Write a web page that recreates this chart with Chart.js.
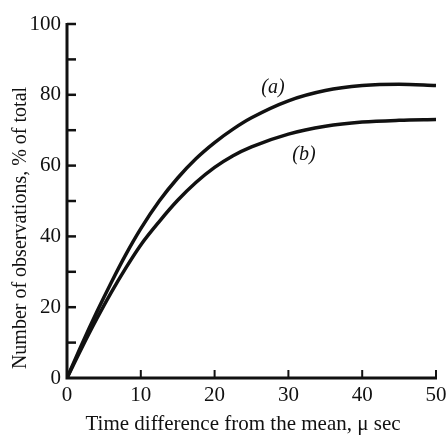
<!DOCTYPE html>
<html>
<head>
<meta charset="utf-8">
<script src="https://cdn.jsdelivr.net/npm/chart.js@4.4.1/dist/chart.umd.min.js"></script>
<style>
html,body{margin:0;padding:0;background:#fff;}
#wrap{width:447px;height:435px;}
</style>
</head>
<body>
<div id="wrap"><canvas id="c" width="447" height="435"></canvas></div>
<script>
// Time difference from the mean (µs)
const timeDiff = [0, 2, 4, 6, 8, 10, 12.5, 15, 17.5, 20, 22.5, 25, 30, 35, 40, 45, 50];
// Curve (a), % of total
const curveA = [0, 9.5, 18.5, 27, 35, 42.2, 50, 56.5, 62, 66.5, 70.3, 73.5, 78.3, 81.2, 82.6, 83, 82.6];
// Curve (b), % of total
const curveB = [0, 8.5, 16.6, 24.2, 31.2, 37.6, 44.2, 50.2, 55.3, 59.5, 62.8, 65.3, 68.9, 71.1, 72.3, 72.8, 73];
const curveLabels = ['(a)', '(b)'];
const curveLabelX = [27.9, 32.1];
const curveLabelY = [82.0, 63.0];
const xTickLabels = [0, 10, 20, 30, 40, 50];
const yTickLabels = [0, 20, 40, 60, 80, 100];
const xTitle = 'Time difference from the mean, \u03bc sec';
const yTitle = 'Number of observations, % of total';

const FONT = '"Liberation Serif", "DejaVu Serif", serif';

const axesPlugin = {
  id: 'handAxes',
  afterDatasetsDraw(chart) {
    const ctx = chart.ctx;
    const xs = chart.scales.x, ys = chart.scales.y;
    const x0 = xs.getPixelForValue(0), y0 = ys.getPixelForValue(0);
    ctx.save();
    ctx.strokeStyle = '#111';
    ctx.lineCap = 'butt';
    ctx.lineWidth = 3;
    ctx.beginPath();
    ctx.moveTo(x0, ys.getPixelForValue(100) - 1);
    ctx.lineTo(x0, y0);
    ctx.lineTo(xs.getPixelForValue(50) + 1, y0);
    ctx.stroke();
    ctx.lineWidth = 2.5;
    ys.ticks.forEach(t => {
      if (t.value === 0) return;
      const p = ys.getPixelForValue(t.value);
      ctx.beginPath(); ctx.moveTo(x0, p); ctx.lineTo(x0 + 9, p); ctx.stroke();
    });
    ctx.lineWidth = 2;
    xs.ticks.forEach(t => {
      if (t.value === 0) return;
      const p = xs.getPixelForValue(t.value);
      ctx.beginPath(); ctx.moveTo(p, y0); ctx.lineTo(p, y0 - 8); ctx.stroke();
    });
    ctx.fillStyle = '#111';
    // curve labels
    ctx.font = 'italic 20px ' + FONT;
    ctx.textAlign = 'center';
    ctx.textBaseline = 'middle';
    curveLabels.forEach((s, i) => {
      ctx.fillText(s, xs.getPixelForValue(curveLabelX[i]), ys.getPixelForValue(curveLabelY[i]));
    });
    // axis titles
    ctx.font = '21px ' + FONT;
    ctx.fillText(xTitle, 243, 424);
    ctx.save();
    ctx.translate(21, 228);
    ctx.rotate(-Math.PI / 2);
    ctx.font = '20px ' + FONT;
    ctx.fillText(yTitle, 0, 0);
    ctx.restore();
    ctx.restore();
  }
};

new Chart(document.getElementById('c'), {
  type: 'line',
  data: {
    datasets: [
      { label: '(a)', data: timeDiff.map((x, i) => ({x, y: curveA[i]})), borderColor: '#111', borderWidth: 3.5, pointRadius: 0, cubicInterpolationMode: 'monotone', fill: false },
      { label: '(b)', data: timeDiff.map((x, i) => ({x, y: curveB[i]})), borderColor: '#111', borderWidth: 3.5, pointRadius: 0, cubicInterpolationMode: 'monotone', fill: false }
    ]
  },
  options: {
    responsive: false,
    animation: false,
    devicePixelRatio: 1,
    layout: { padding: { top: 24, right: 11, left: 0, bottom: 0 } },
    plugins: { legend: { display: false }, tooltip: { enabled: false } },
    scales: {
      x: {
        type: 'linear', min: 0, max: 50,
        border: { display: false },
        grid: { display: false, drawTicks: false },
        ticks: { stepSize: 10, color: '#111', padding: 5, font: { family: FONT, size: 21 },
          callback: v => xTickLabels.includes(v) ? String(v) : '' },
        afterFit: s => { s.height = 57; s.paddingLeft = 0; s.paddingRight = 0; }
      },
      y: {
        type: 'linear', min: 0, max: 100,
        border: { display: false },
        grid: { display: false, drawTicks: false },
        ticks: { stepSize: 10, color: '#111', padding: 6, font: { family: FONT, size: 21 },
          callback: v => yTickLabels.includes(v) ? String(v) : '' },
        afterFit: s => { s.width = 67; s.paddingTop = 0; s.paddingBottom = 0; }
      }
    }
  },
  plugins: [axesPlugin]
});
</script>
</body>
</html>
